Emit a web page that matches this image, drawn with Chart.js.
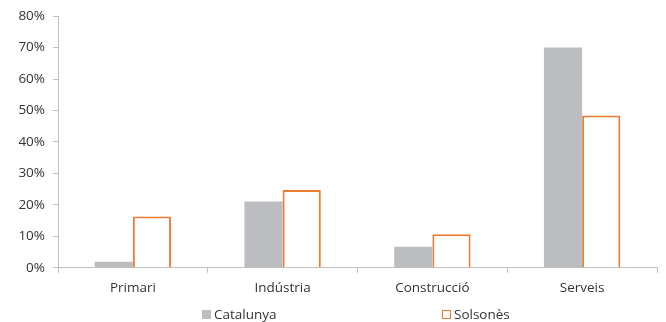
<!DOCTYPE html>
<html>
<head>
<meta charset="utf-8">
<script src="https://cdn.jsdelivr.net/npm/chart.js@4"></script>
<style>
  html, body { margin: 0; padding: 0; background: #fff; }
  #wrap { position: relative; width: 666px; height: 322px; }
  .legend { position: absolute; top: 305px; font: 13.5px "Open Sans", sans-serif; color: #333; display: flex; align-items: center; }
  .legend i { display: inline-block; width: 9px; height: 9px; margin-right: 3px; box-sizing: border-box; }
</style>
</head>
<body>
<div id="wrap">
  <canvas id="chart" width="666" height="322"></canvas>
  <div class="legend" style="left:202px"><i style="background:#bcbdc0"></i>Catalunya</div>
  <div class="legend" style="left:442px"><i style="border:1.5px solid #f07a30;background:#fff"></i>Solsonès</div>
</div>
<script>
// ---- Data ----
const categories = ["Primari", "Indústria", "Construcció", "Serveis"];
const catalunya = [1.9, 21.1, 6.7, 70.0];
const solsones = [16.3, 24.7, 10.7, 48.4];
const yTicks = [0, 10, 20, 30, 40, 50, 60, 70, 80];

const GRAY = "#bcbdc0";
const ORANGE = "#f07a30";
const AXIS = "#bfbfbf";
const TEXT = "#333333";

new Chart(document.getElementById("chart"), {
  type: "bar",
  data: {
    labels: categories,
    datasets: [
      { label: "Catalunya", data: catalunya, backgroundColor: GRAY, borderWidth: 0 },
      { label: "Solsonès", data: solsones, backgroundColor: "#ffffff", borderColor: ORANGE, borderWidth: 2 }
    ]
  },
  options: {
    responsive: false,
    animation: false,
    layout: { padding: { top: 12, right: 9, bottom: 19, left: 0 } },
    plugins: { legend: { display: false }, tooltip: { enabled: false } },
    datasets: { bar: { categoryPercentage: 0.51, barPercentage: 1.0 } },
    scales: {
      x: {
        grid: { offset: true, drawOnChartArea: false, drawTicks: true, tickLength: 5, color: AXIS },
        border: { display: true, color: AXIS },
        ticks: { color: TEXT, font: { family: "Open Sans", size: 13.5 }, padding: 7 }
      },
      y: {
        min: yTicks[0],
        max: yTicks[yTicks.length - 1],
        afterBuildTicks: axis => { axis.ticks = yTicks.map(v => ({ value: v })); },
        afterFit: axis => { axis.width = 58; },
        grid: { drawOnChartArea: false, drawTicks: true, tickLength: 5, color: AXIS },
        border: { display: true, color: AXIS },
        ticks: { color: TEXT, font: { family: "Open Sans", size: 13.5 }, padding: 8, callback: v => v + "%" }
      }
    }
  }
});
</script>
</body>
</html>
